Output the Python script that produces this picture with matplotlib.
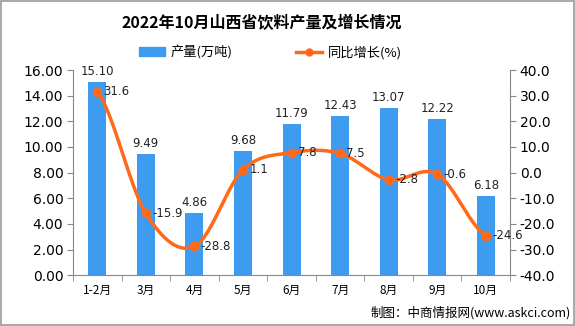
import numpy as np
import matplotlib
matplotlib.use("Agg")
import matplotlib.pyplot as plt
from matplotlib.patches import Rectangle, Patch
from matplotlib.lines import Line2D

plt.rcParams['font.family'] = ['DejaVu Sans', 'Noto Sans CJK SC']

categories = ['1-2月', '3月', '4月', '5月', '6月', '7月', '8月', '9月', '10月']
output = [15.10, 9.49, 4.86, 9.68, 11.79, 12.43, 13.07, 12.22, 6.18]
growth = [31.6, -15.9, -28.8, 1.1, 7.8, 7.5, -2.8, -0.6, -24.6]

bar_color = '#3D9BF0'
line_color = '#FF6A1A'

fig = plt.figure(figsize=(5.75, 3.26), dpi=100)
fig.patches.append(Rectangle((0.001, 0.002), 0.997, 0.995, transform=fig.transFigure,
                             fill=False, edgecolor='#999999', linewidth=1.2))
ax = fig.add_axes([0.127, 0.156, 0.76, 0.629])
ax2 = ax.twinx()

x = np.arange(len(categories))
ax.bar(x, output, width=0.37, color=bar_color, zorder=2)
for xi, v in zip(x, output):
    ax.text(xi, v + 0.3, f'{v:.2f}', ha='center', va='bottom', fontsize=8.5,
            color='#222222')

ax.set_ylim(0, 16)
ax.set_yticks(np.arange(0, 16.1, 2))
ax.set_yticklabels([f'{t:.2f}' for t in np.arange(0, 16.1, 2)])
ax.set_xlim(-0.5, len(categories) - 0.5)
ax.set_xticks(x)
ax.set_xticklabels(categories)
ax.set_xticks(np.arange(-0.5, len(categories), 1), minor=True)
ax.tick_params(axis='x', which='major', length=0, labelsize=8.5, pad=6)
ax.tick_params(axis='x', which='minor', length=4, color='#888888')
ax.tick_params(axis='y', length=4, color='#888888', labelsize=10, pad=3)

# Catmull-Rom smooth curve through the growth points (drawing only)
g = np.array(growth, dtype=float)
px = np.concatenate([[2 * x[0] - x[1]], x, [2 * x[-1] - x[-2]]]).astype(float)
py = np.concatenate([[g[0]], g, [g[-1]]])
cx, cy = [], []
t = np.linspace(0, 1, 30)
for i in range(1, len(px) - 2):
    p0, p1, p2, p3 = (np.array([px[j], py[j]]) for j in range(i - 1, i + 3))
    for tt in t:
        pt = 0.5 * ((2 * p1) + (-p0 + p2) * tt + (2 * p0 - 5 * p1 + 4 * p2 - p3) * tt ** 2
                    + (-p0 + 3 * p1 - 3 * p2 + p3) * tt ** 3)
        cx.append(pt[0]); cy.append(pt[1])
ax2.plot(cx, cy, color=line_color, linewidth=2.5, zorder=3)
ax2.plot(x, g, 'o', color=line_color, markersize=6, zorder=4)
for xi, v in zip(x, g):
    ax2.text(xi + 0.13, v, f'{v:.1f}', ha='left', va='center', fontsize=8.5,
             color='#222222', zorder=5)

ax2.set_ylim(-40, 40)
ax2.set_yticks(np.arange(-40, 40.1, 10))
ax2.set_yticklabels([f'{t:.1f}' for t in np.arange(-40, 40.1, 10)])
ax2.tick_params(axis='y', length=4, color='#888888', labelsize=10, pad=3)

for a in (ax, ax2):
    a.spines['top'].set_visible(False)
    for s in ('left', 'right', 'bottom'):
        a.spines[s].set_color('#888888')
ax.spines['right'].set_visible(False)
ax2.spines['left'].set_visible(False)
ax2.spines['bottom'].set_visible(False)

handles = [Patch(color=bar_color, label='产量(万吨)'),
           Line2D([0], [0], color=line_color, lw=2.5, marker='o', markersize=5,
                  label='同比增长(%)')]
fig.legend(handles=handles, loc='center', bbox_to_anchor=(0.47, 0.84), ncol=2,
           frameon=False, handlelength=2.0, handleheight=0.6, handletextpad=0.4,
           columnspacing=4.8, prop={'family': ['Noto Sans CJK SC'], 'size': 9.5})

fig.text(0.455, 0.93, '2022年10月山西省饮料产量及增长情况', ha='center', va='center',
         fontsize=11.5, fontweight='bold', family=['Noto Sans CJK SC'])
fig.text(0.992, 0.042, '制图：中商情报网(www.askci.com)', ha='right', va='center',
         fontsize=9, family=['Noto Sans CJK SC', 'DejaVu Sans'])

for lbl in ax.get_xticklabels():
    lbl.set_family(['Noto Sans CJK SC', 'DejaVu Sans'])

fig.savefig('out.png', dpi=100)
